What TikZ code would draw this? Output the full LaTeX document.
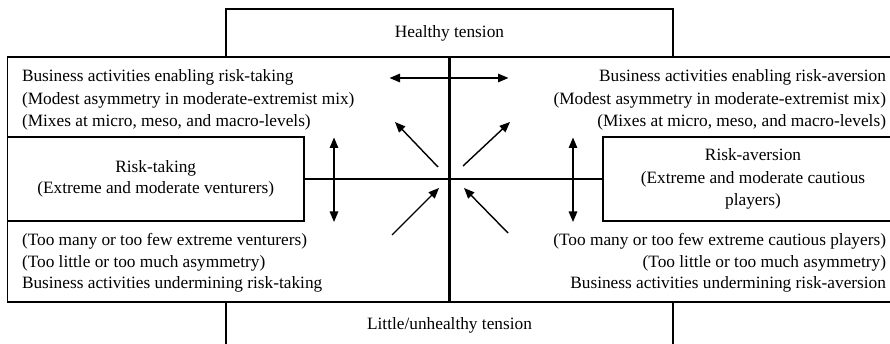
\documentclass[tikz,border=0pt]{standalone}
\usepackage{fontspec}
\setmainfont{Liberation Serif}
\usetikzlibrary{arrows.meta}
\begin{document}
\begin{tikzpicture}[x=1pt,y=-1pt,
  frame/.style={draw, line width=1.8pt, inner sep=0pt, outer sep=0pt, anchor=north west},
  axisline/.style={line width=2.2pt},
  oneway/.style={line width=1.4pt, -{Triangle[length=10.5pt,width=8.5pt]}},
  twoway/.style={line width=1.4pt, {Triangle[length=10.5pt,width=8.5pt]}-{Triangle[length=10.5pt,width=8.5pt]}},
  txt/.style={font=\fontsize{17.3}{22.5}\selectfont, inner sep=0pt, outer sep=0pt},
]
\useasboundingbox (0,0) rectangle (890,344);
\clip (0,0) rectangle (890,344);

% outer frames
\node[frame, minimum width=447pt, minimum height=48pt] (healthy) at (226,9)
  {\fontsize{17.3}{22}\selectfont Healthy tension};
\node[frame, minimum width=447pt, minimum height=60pt] (unhealthy) at (226,302) {};
\node[frame, minimum width=910pt, minimum height=245pt] (field) at (7.5,57) {};

% actor boxes
\node[frame, minimum width=296.5pt, minimum height=84pt, align=center,
      font=\fontsize{17.3}{21.5}\selectfont] (taking) at (7.5,137)
  {Risk-taking\\(Extreme and moderate venturers)};
\node[frame, minimum width=300pt, minimum height=84pt, align=center,
      font=\fontsize{17.3}{22.5}\selectfont] (aversion) at (603,137)
  {Risk-aversion\\(Extreme and moderate cautious\\players)};

% central cross
\coordinate (vtop) at (449.5,57);
\coordinate (vbot) at (449.5,302);
\draw[axisline] (vtop) -- (vbot);
\draw[axisline] (taking.east) -- (aversion.west);

% text blocks
\node[txt, anchor=north west, align=left] (enableT) at (22,69.5)
  {Business activities enabling risk-taking\\
   (Modest asymmetry in moderate-extremist mix)\\
   (Mixes at micro, meso, and macro-levels)};
\node[txt, anchor=north east, align=right] (enableA) at (886,69.5)
  {Business activities enabling risk-aversion\\
   (Modest asymmetry in moderate-extremist mix)\\
   (Mixes at micro, meso, and macro-levels)};
\node[txt, anchor=north west, align=left, font=\fontsize{17.3}{21.5}\selectfont] (underT) at (22,233.5)
  {(Too many or too few extreme venturers)\\
   (Too little or too much asymmetry)\\
   Business activities undermining risk-taking};
\node[txt, anchor=north east, align=right, font=\fontsize{17.3}{21.5}\selectfont] (underA) at (886,233.5)
  {(Too many or too few extreme cautious players)\\
   (Too little or too much asymmetry)\\
   Business activities undermining risk-aversion};
\node[txt] (lowtxt) at (449.5,325) {Little/unhealthy tension};

% arrows
\coordinate (hl) at (389.5,78);
\coordinate (hr) at (508.5,78);
\draw[twoway] (hl) -- (hr);
\coordinate (lvt) at (334,137.5);
\coordinate (lvb) at (334,222);
\draw[twoway] (lvt) -- (lvb);
\coordinate (rvt) at (573,137.5);
\coordinate (rvb) at (573,222);
\draw[twoway] (rvt) -- (rvb);

\coordinate (ulS) at (438,167);  \coordinate (ulE) at (395,122);
\coordinate (urS) at (463,166);  \coordinate (urE) at (510,122);
\coordinate (llS) at (392,235);  \coordinate (llE) at (439,188);
\coordinate (lrS) at (508,233);  \coordinate (lrE) at (464,188);
\draw[oneway] (ulS) -- (ulE);
\draw[oneway] (urS) -- (urE);
\draw[oneway] (llS) -- (llE);
\draw[oneway] (lrS) -- (lrE);
\end{tikzpicture}
\end{document}
